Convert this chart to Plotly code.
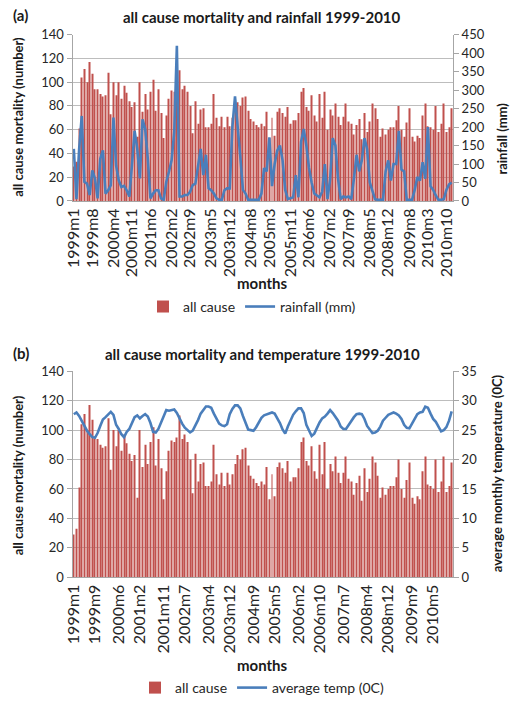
import plotly.graph_objects as go

# ---------------- data ----------------
months = [f"{y}m{m}" for y in range(1999, 2011) for m in range(1, 13)]

mortality = [
    29, 33, 61, 104, 111, 100, 117, 107, 94, 94, 90, 88,
    89, 108, 73, 100, 89, 100, 86, 97, 91, 84, 79, 83,
    54, 100, 75, 90, 77, 92, 102, 76, 94, 74, 53, 72,
    86, 93, 92, 95, 110, 94, 97, 92, 80, 57, 84, 65,
    77, 78, 62, 62, 65, 90, 70, 63, 71, 62, 71, 63,
    70, 77, 83, 80, 87, 88, 76, 69, 67, 64, 62, 65,
    63, 75, 53, 70, 55, 75, 78, 74, 71, 79, 65, 68,
    68, 74, 92, 95, 79, 76, 89, 72, 67, 90, 70, 92,
    60, 77, 72, 82, 71, 64, 71, 82, 67, 65, 56, 64,
    69, 52, 74, 58, 67, 82, 78, 69, 54, 61, 56, 60,
    62, 62, 68, 80, 60, 54, 66, 78, 54, 50, 55, 53,
    72, 82, 63, 62, 60, 80, 58, 65, 82, 58, 62, 78,
]

rainfall = [
    141, 5, 140, 230, 52, 47, 16, 83, 61, 7, 114, 137,
    20, 29, 43, 226, 96, 56, 38, 41, 29, 12, 96, 190,
    141, 61, 221, 195, 114, 7, 20, 29, 29, 7, 3, 52,
    79, 110, 186, 420, 12, 12, 16, 16, 25, 43, 47, 96,
    141, 70, 125, 34, 29, 20, 7, 3, 3, 29, 34, 34,
    200, 283, 210, 120, 30, 20, 3, 3, 3, 3, 3, 20,
    89, 80, 172, 40, 100, 137, 150, 110, 30, 5, 8, 10,
    70, 10, 160, 195, 150, 90, 50, 20, 15, 10, 25, 100,
    5, 60, 170, 150, 60, 5, 12, 10, 12, 5, 60, 125,
    80, 110, 170, 140, 50, 30, 5, 3, 3, 3, 80, 110,
    55, 100, 100, 190, 85, 80, 3, 3, 3, 30, 65, 55,
    105, 60, 200, 40, 30, 15, 3, 3, 5, 30, 45, 50,
]

temperature = [
    27.7, 28.0, 27.4, 26.5, 25.7, 24.9, 24.3, 23.8, 23.7, 24.5, 25.7, 26.8,
    27.2, 27.6, 28.1, 27.6, 25.9, 25.2, 24.3, 23.8, 24.7, 25.2, 26.3, 27.2,
    27.5, 27.0, 27.4, 27.7, 27.3, 26.2, 24.7, 24.6, 25.2, 26.3, 27.4, 28.4,
    28.3, 28.4, 28.5, 27.9, 26.9, 26.1, 25.4, 25.0, 24.6, 24.9, 25.7, 26.7,
    27.8, 28.5, 29.0, 29.0, 28.8, 27.8, 26.9, 26.1, 25.8, 25.7, 26.0, 27.7,
    28.6, 29.2, 29.2, 28.7, 27.4, 26.1, 25.1, 25.0, 24.9, 25.5, 26.4, 27.1,
    27.5, 27.7, 27.9, 28.0, 27.8, 27.1, 26.2, 25.1, 24.4, 25.6, 26.6, 27.6,
    28.2, 28.7, 28.7, 27.9, 25.9, 24.9, 24.0, 24.4, 25.5, 26.3, 27.0, 27.3,
    27.8, 28.4, 27.9, 27.3, 26.6, 25.6, 25.2, 25.2, 25.9, 26.6, 27.2, 27.7,
    27.8, 27.7, 26.9, 25.7, 25.0, 24.5, 24.6, 24.9, 25.6, 26.6, 27.1, 27.6,
    27.8, 28.0, 27.8, 27.5, 26.9, 25.9, 25.4, 25.3, 26.1, 27.0, 27.7, 28.0,
    28.1, 29.0, 28.8, 27.8, 26.9, 26.4, 25.5, 24.8, 25.0, 25.5, 26.6, 28.2,
]

ticks_a = ["1999m1", "1999m8", "2000m4", "2000m11", "2001m6", "2002m2", "2002m9",
           "2003m5", "2003m12", "2004m8", "2005m3", "2005m11", "2006m6", "2007m2",
           "2007m9", "2008m5", "2008m12", "2009m8", "2010m3", "2010m10"]
ticks_b = ["1999m1", "1999m9", "2000m6", "2001m2", "2001m11", "2002m7", "2003m4",
           "2003m12", "2004m9", "2005m5", "2006m2", "2006m10", "2007m7", "2008m4",
           "2008m12", "2009m9", "2010m5"]

# ---------------- style ----------------
W, H = 511, 704
RED = "#C0504D"
BLUE = "#4A7EBB"
GRID = "#BDBDBD"
AXIS = "#A6A6A6"
TXT = "#262626"
FONT = "Lato, Carlito, Calibri, sans-serif"


def px(x):
    return x / W


def py(y):
    return 1 - y / H


fig = go.Figure()
fig.add_trace(go.Bar(x=months, y=mortality, name="all cause", marker_color=RED,
                     marker_line_width=0, width=0.38, xaxis="x", yaxis="y",
                     legend="legend"))
fig.add_trace(go.Scatter(x=months, y=rainfall, name="rainfall (mm)", mode="lines",
                         line=dict(color=BLUE, width=2.6), xaxis="x", yaxis="y2",
                         legend="legend"))
fig.add_trace(go.Bar(x=months, y=mortality, name="all cause", marker_color=RED,
                     marker_line_width=0, width=0.38, xaxis="x2", yaxis="y3",
                     legend="legend2"))
fig.add_trace(go.Scatter(x=months, y=temperature, name="average temp (0C)",
                         mode="lines", line=dict(color=BLUE, width=2.6),
                         xaxis="x2", yaxis="y4", legend="legend2"))

xdom = [px(72.5), px(453)]
common_x = dict(type="category", range=[-0.5, len(months) - 0.5], tickmode="array",
                tickangle=-90, showline=True, linecolor=AXIS, linewidth=1,
                showgrid=False, ticks="", automargin=False,
                tickfont=dict(size=16, color=TXT, family=FONT))
common_yl = dict(showline=True, linecolor=AXIS, linewidth=1, showgrid=True,
                 gridcolor=GRID, gridwidth=1, zeroline=False, ticks="outside",
                 ticklen=5, tickcolor=AXIS, automargin=False,
                 tickfont=dict(size=13, color=TXT, family=FONT))
common_yr = dict(showline=True, linecolor=AXIS, linewidth=1, showgrid=False,
                 zeroline=False, ticks="outside", ticklen=5, tickcolor=AXIS,
                 automargin=False, side="right",
                 tickfont=dict(size=13, color=TXT, family=FONT))

fig.update_layout(
    width=W, height=H,
    margin=dict(l=0, r=0, t=0, b=0),
    paper_bgcolor="white", plot_bgcolor="white",
    font=dict(family=FONT, color=TXT),
    xaxis=dict(domain=xdom, anchor="y", tickvals=ticks_a, ticktext=ticks_a, **common_x),
    yaxis=dict(domain=[py(203), py(35)], anchor="x", range=[0, 140], dtick=20, **common_yl),
    yaxis2=dict(overlaying="y", anchor="x", range=[0, 450], dtick=50, **common_yr),
    xaxis2=dict(domain=xdom, anchor="y3", tickvals=ticks_b, ticktext=ticks_b, **common_x),
    yaxis3=dict(domain=[py(583), py(375)], anchor="x2", range=[0, 140], dtick=20, **common_yl),
    yaxis4=dict(overlaying="y3", anchor="x2", range=[0, 35], dtick=5, **common_yr),
    showlegend=True,
    legend=dict(orientation="h", x=px(252), y=py(310), xanchor="center", yanchor="middle",
                font=dict(size=14, color=TXT, family=FONT), bgcolor="rgba(0,0,0,0)",
                itemwidth=30, tracegroupgap=0),
    legend2=dict(orientation="h", x=px(262), y=py(695), xanchor="center", yanchor="middle",
                 font=dict(size=14, color=TXT, family=FONT), bgcolor="rgba(0,0,0,0)",
                 itemwidth=30, tracegroupgap=0),
)

ann = []


def text(x, y, s, size, bold=True, angle=0, xanchor="center"):
    ann.append(dict(x=px(x), y=py(y), xref="paper", yref="paper",
                    text=f"<b>{s}</b>" if bold else s,
                    showarrow=False, textangle=angle, xanchor=xanchor, yanchor="middle",
                    font=dict(size=size, color="#1a1a1a", family=FONT)))


text(11, 15, "(a)", 15, xanchor="left")
text(262, 17, "all cause mortality and rainfall 1999-2010", 15)
text(18, 118, "all cause mortality (number)", 13, angle=-90)
text(502, 140, "rainfall (mm)", 13, angle=-90)
text(262, 286, "months", 15)

text(11, 357, "(b)", 15, xanchor="left")
text(262, 358, "all cause mortality and temperature 1999-2010", 15)
text(18, 480, "all cause mortality (number)", 13, angle=-90)
text(497, 478, "average monthly temperature (0C)", 13, angle=-90)
text(262, 672, "months", 15)

fig.update_layout(annotations=ann)
fig.write_html("out.html", config={"displayModeBar": False})

# pin the page to exactly the figure size (no default body margin, no overflow)
css = ("<style>html,body{margin:0;padding:0;overflow:hidden;width:511px;height:704px;}"
       "body>div{width:511px;height:704px;overflow:hidden;}</style>")
with open("out.html", encoding="utf-8") as f:
    html = f.read()
html = html.replace("<head>", "<head>" + css, 1)
with open("out.html", "w", encoding="utf-8") as f:
    f.write(html)
